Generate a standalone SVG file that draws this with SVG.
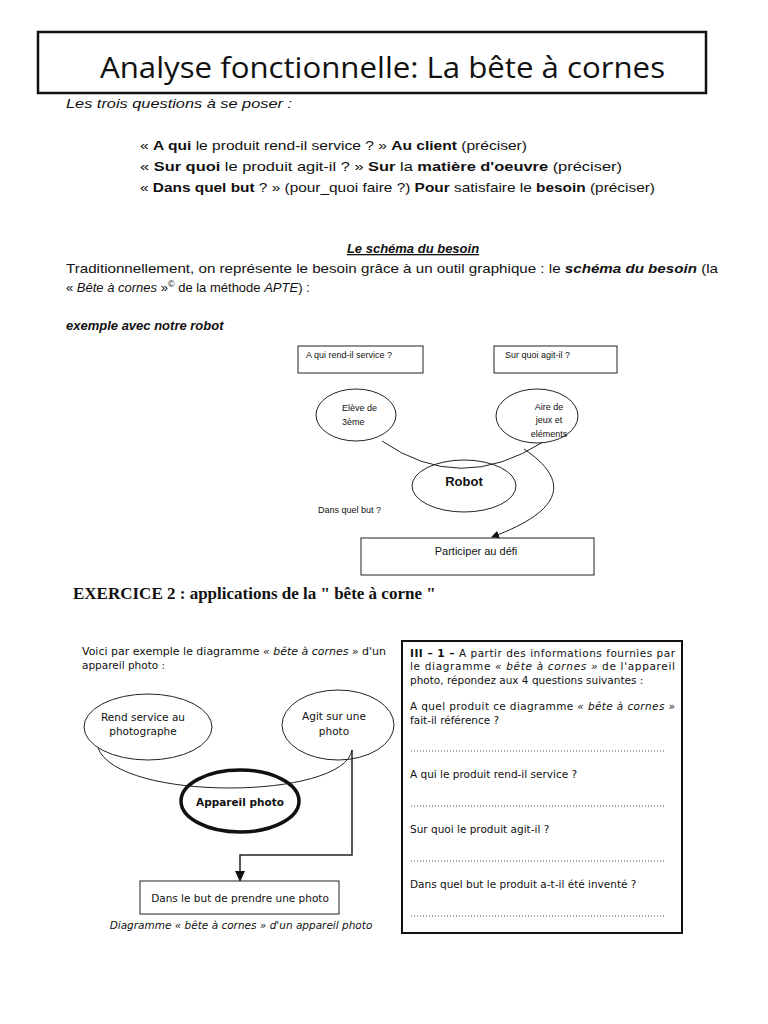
<svg xmlns="http://www.w3.org/2000/svg" width="768" height="1024" viewBox="0 0 768 1024">
<style>
.t{font-family:"Liberation Sans",Arial,sans-serif;fill:#111}
.c{font-family:"Liberation Sans",Arial,sans-serif;fill:#111;font-size:13px}
.s{font-family:"Liberation Sans",Arial,sans-serif;fill:#111;font-size:9px}
.p{font-family:"DejaVu Sans","Liberation Sans",sans-serif;fill:#111;font-size:10.5px}
.shape{fill:#fff;stroke:#222;stroke-width:1}
.line{fill:none;stroke:#222;stroke-width:1}
.dots{stroke:#555;stroke-width:1;stroke-dasharray:1,2}
</style>
<defs>
<marker id="ah" markerWidth="8" markerHeight="8" refX="7" refY="4" orient="auto" markerUnits="userSpaceOnUse">
<path d="M0,0 L8,4 L0,8 z" fill="#111"/>
</marker>
<marker id="ah2" markerWidth="11" markerHeight="10" refX="10" refY="5" orient="auto" markerUnits="userSpaceOnUse">
<path d="M0,0 L11,5 L0,10 z" fill="#111"/>
</marker>
</defs>
<rect width="768" height="1024" fill="#fff"/>

<g id="title">
<rect x="38" y="32" width="668" height="61" fill="#fff" stroke="#111" stroke-width="2.5"/>
<text x="100" y="78" font-family="'Open Sans','Noto Sans',sans-serif" font-size="30" fill="#111" textLength="565" lengthAdjust="spacingAndGlyphs">Analyse fonctionnelle: La bête à cornes</text>
</g>

<g id="intro">
<text class="c" x="66" y="108" font-style="italic" textLength="226" lengthAdjust="spacingAndGlyphs">Les trois questions à se poser :</text>
<text class="c" x="140" y="150" textLength="387" lengthAdjust="spacingAndGlyphs">« <tspan font-weight="bold">A qui</tspan> le produit rend-il service ? » <tspan font-weight="bold">Au client</tspan> (préciser)</text>
<text class="c" x="140" y="171" textLength="482" lengthAdjust="spacingAndGlyphs">« <tspan font-weight="bold">Sur quoi</tspan> le produit agit-il ? » <tspan font-weight="bold">Sur</tspan> la <tspan font-weight="bold">matière d'oeuvre</tspan> (préciser)</text>
<text class="c" x="140" y="192" textLength="515" lengthAdjust="spacingAndGlyphs">« <tspan font-weight="bold">Dans quel but</tspan> ? » (pour_quoi faire ?) <tspan font-weight="bold">Pour</tspan> satisfaire le <tspan font-weight="bold">besoin</tspan> (préciser)</text>
<text class="c" x="413" y="253" text-anchor="middle" font-weight="bold" font-style="italic" text-decoration="underline" font-size="14">Le schéma du besoin</text>
<text class="c" x="66" y="273" textLength="652" lengthAdjust="spacingAndGlyphs">Traditionnellement, on représente le besoin grâce à un outil graphique : le <tspan font-weight="bold" font-style="italic">schéma du besoin</tspan> (la</text>
<text class="c" x="66" y="292">« <tspan font-style="italic">Bête à cornes</tspan> »<tspan font-size="9" dy="-5">©</tspan><tspan dy="5"> de la méthode </tspan><tspan font-style="italic">APTE</tspan>) :</text>
<text class="c" x="66" y="330" font-weight="bold" font-style="italic">exemple avec notre robot</text>
</g>

<g id="connectors-robot">
<path class="line" d="M382,441 Q460,495 543,442"/>
<path class="line" d="M524,449 C570,480 565,510 492,537" marker-end="url(#ah)"/>
</g>

<g id="q-service">
<rect class="shape" x="298" y="346" width="125" height="27"/>
<text class="s" x="306" y="358">A qui rend-il service ?</text>
</g>
<g id="q-matiere">
<rect class="shape" x="494" y="346" width="123" height="27"/>
<text class="s" x="505" y="358">Sur quoi agit-il ?</text>
</g>
<g id="eleve">
<ellipse class="shape" cx="356" cy="415" rx="40" ry="26"/>
<text class="s" x="342" y="411">Elève de</text>
<text class="s" x="342" y="425">3ème</text>
</g>
<g id="aire">
<ellipse class="shape" cx="537" cy="416" rx="41" ry="27"/>
<text class="s" x="549" y="410" text-anchor="middle">Aire de</text>
<text class="s" x="549" y="423" text-anchor="middle">jeux et</text>
<text class="s" x="549" y="437" text-anchor="middle">eléments</text>
</g>
<g id="robot">
<ellipse class="shape" cx="464" cy="486" rx="52" ry="26" fill="none" style="fill:none"/>
<text class="t" x="464" y="486" text-anchor="middle" font-weight="bold" font-size="13">Robot</text>
</g>
<g id="but-label">
<text class="s" x="318" y="513">Dans quel but ?</text>
</g>
<g id="defi">
<rect class="shape" x="361" y="538" width="233" height="37"/>
<text class="t" x="476" y="555" text-anchor="middle" font-size="11">Participer au défi</text>
</g>

<g id="exercice">
<text x="73" y="599" font-family="'Liberation Serif','Times New Roman',serif" font-weight="bold" font-size="17" fill="#111">EXERCICE 2 : applications de la " bête à corne "</text>
</g>

<g id="camera-intro">
<text class="p" x="82" y="655" textLength="304" lengthAdjust="spacingAndGlyphs">Voici par exemple le diagramme <tspan font-style="italic">« bête à cornes »</tspan> d'un</text>
<text class="p" x="82" y="669">appareil photo :</text>
</g>

<g id="connectors-camera">
<path class="line" d="M98,748 C118,802 344,800 352,750"/>
<path class="line" stroke-width="1.5" d="M352,750 L352,855 L240,855 L240,881" marker-end="url(#ah2)" style="stroke-width:1.5"/>
</g>

<g id="rend-service">
<ellipse class="shape" cx="148" cy="727" rx="64" ry="33" style="fill:none"/>
<text class="p" x="143" y="721" text-anchor="middle">Rend service au</text>
<text class="p" x="143" y="735" text-anchor="middle">photographe</text>
</g>
<g id="agit-sur">
<ellipse class="shape" cx="338" cy="725" rx="56" ry="35" style="fill:none"/>
<text class="p" x="334" y="720" text-anchor="middle">Agit sur une</text>
<text class="p" x="334" y="735" text-anchor="middle">photo</text>
</g>
<g id="appareil">
<ellipse cx="240" cy="801" rx="59" ry="31" fill="none" stroke="#111" stroke-width="3.5"/>
<text class="p" x="240" y="806" text-anchor="middle" font-weight="bold" font-size="11.5">Appareil photo</text>
</g>
<g id="prendre-photo">
<rect class="shape" x="140" y="881" width="199" height="33"/>
<text class="p" x="240" y="902" text-anchor="middle">Dans le but de prendre une photo</text>
</g>
<g id="caption">
<text class="p" x="241" y="929" text-anchor="middle" font-style="italic">Diagramme « bête à cornes » d'un appareil photo</text>
</g>

<g id="questions-panel">
<rect x="402" y="641" width="280" height="292" fill="#fff" stroke="#111" stroke-width="2"/>
<text class="p" x="410" y="657" textLength="265" lengthAdjust="spacing"><tspan font-weight="bold">III – 1 –</tspan> A partir des informations fournies par</text>
<text class="p" x="410" y="670" textLength="265" lengthAdjust="spacing">le diagramme <tspan font-style="italic">« bête à cornes »</tspan> de l'appareil</text>
<text class="p" x="410" y="684">photo, répondez aux 4 questions suivantes :</text>
<text class="p" x="410" y="710" textLength="265" lengthAdjust="spacing">A quel produit ce diagramme <tspan font-style="italic">« bête à cornes »</tspan></text>
<text class="p" x="410" y="724">fait-il référence ?</text>
<line class="dots" x1="411" y1="751" x2="666" y2="751"/>
<text class="p" x="410" y="778">A qui le produit rend-il service ?</text>
<line class="dots" x1="411" y1="806" x2="666" y2="806"/>
<text class="p" x="410" y="833">Sur quoi le produit agit-il ?</text>
<line class="dots" x1="411" y1="861" x2="666" y2="861"/>
<text class="p" x="410" y="888">Dans quel but le produit a-t-il été inventé ?</text>
<line class="dots" x1="411" y1="916" x2="666" y2="916"/>
</g>
</svg>
